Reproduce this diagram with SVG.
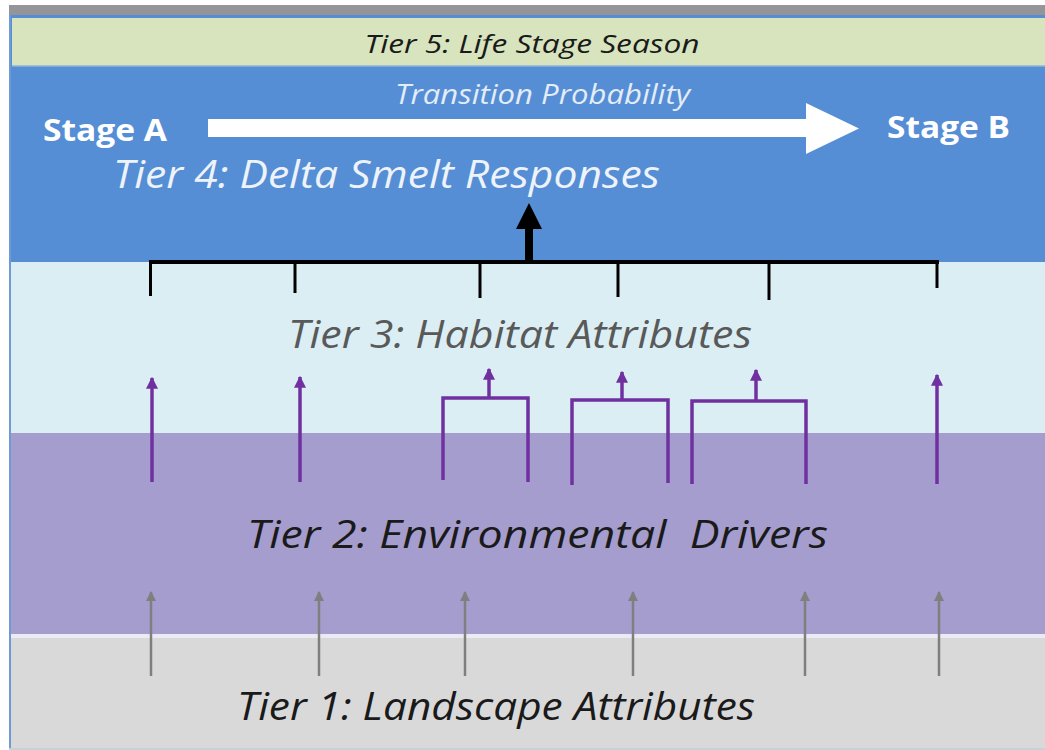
<svg xmlns="http://www.w3.org/2000/svg" width="1045" height="750" viewBox="0 0 1045 750">
<style>
  .t { font-family: "Open Sans", "Liberation Sans", sans-serif; font-style: italic; white-space: pre; }
  .stage { font-family: "Open Sans", "Liberation Sans", sans-serif; font-weight: bold; fill: #ffffff; font-size: 30px; }
  .tick { stroke: #000000; stroke-width: 3; fill: none; }
  .pur { stroke: #7030a0; stroke-width: 3.5; fill: none; stroke-linejoin: miter; }
  .gry { stroke: #7f7f7f; stroke-width: 2.5; fill: none; }
</style>
<defs>
  <marker id="mPur" viewBox="0 0 10 10" refX="9" refY="5" markerUnits="userSpaceOnUse" markerWidth="12" markerHeight="13" orient="auto">
    <path d="M0,0 L10,5 L0,10 Z" fill="#7030a0"/>
  </marker>
  <marker id="mGry" viewBox="0 0 10 10" refX="9" refY="5" markerUnits="userSpaceOnUse" markerWidth="11" markerHeight="10" orient="auto">
    <path d="M0,0 L10,5 L0,10 Z" fill="#7f7f7f"/>
  </marker>
</defs>
<rect x="0" y="0" width="1045" height="750" fill="#ffffff"/>
<g id="tier-bands">
  <rect x="9" y="5" width="1036" height="10" fill="#939598"/>
  <rect x="9" y="15" width="1036" height="247" fill="#558ed5"/>
  <rect x="12" y="18" width="1033" height="48" fill="#d7e4bd"/>
  <line x1="12" y1="66" x2="1045" y2="66" stroke="#8fb4d8" stroke-width="1.5"/>
  <rect x="9" y="262" width="1036" height="171" fill="#dbeef4"/>
  <rect x="9" y="433" width="1036" height="201" fill="#a59dcd"/>
  <rect x="9" y="634" width="1036" height="4" fill="#ecebf5"/>
  <rect x="9" y="638" width="1036" height="110" fill="#d9d9d9"/>
  <rect x="9" y="748" width="1036" height="2" fill="#c8d0d8"/>
  <line x1="10" y1="15" x2="10" y2="748" stroke="#6f9ad6" stroke-width="2"/>
</g>
<g id="tier5">
  <text class="t" x="532" y="53" font-size="25" fill="#1a1a1a" text-anchor="middle" textLength="335" lengthAdjust="spacingAndGlyphs">Tier 5: Life Stage Season</text>
</g>
<g id="stage-a">
  <text class="stage" x="43" y="141" textLength="124" lengthAdjust="spacingAndGlyphs">Stage A</text>
</g>
<g id="stage-b">
  <text class="stage" x="887" y="138" textLength="123" lengthAdjust="spacingAndGlyphs">Stage B</text>
</g>
<g id="tier4">
  <text class="t" x="113" y="188" font-size="39" fill="#eef3fa" textLength="547" lengthAdjust="spacingAndGlyphs">Tier 4: Delta Smelt Responses</text>
</g>
<g id="tier3">
  <text class="t" x="288" y="348" font-size="39" fill="#595959" textLength="464" lengthAdjust="spacingAndGlyphs">Tier 3: Habitat Attributes</text>
</g>
<g id="tier2">
  <text class="t" x="247" y="548" font-size="39" fill="#1a1a1a" textLength="581" lengthAdjust="spacingAndGlyphs">Tier 2: Environmental  Drivers</text>
</g>
<g id="tier1">
  <text class="t" x="237" y="720" font-size="39" fill="#1a1a1a" textLength="518" lengthAdjust="spacingAndGlyphs">Tier 1: Landscape Attributes</text>
</g>
<g id="connectors">
  <!-- transition arrow -->
  <path d="M208,119 L806,119 L806,103 L859,128.5 L806,154 L806,137 L208,137 Z" fill="#ffffff"/>
  <text class="t" x="395" y="104" font-size="27" fill="#e3ecf7" textLength="295" lengthAdjust="spacingAndGlyphs">Transition Probability</text>
  <!-- black bracket to Tier 4 -->
  <line x1="149" y1="262" x2="939" y2="262" stroke="#000" stroke-width="4"/>
  <line class="tick" x1="150.5" y1="262" x2="150.5" y2="296"/>
  <line class="tick" x1="295" y1="262" x2="295" y2="293"/>
  <line class="tick" x1="480" y1="262" x2="480" y2="298"/>
  <line class="tick" x1="618" y1="262" x2="618" y2="297"/>
  <line class="tick" x1="769" y1="262" x2="769" y2="300"/>
  <line class="tick" x1="937" y1="262" x2="937" y2="288"/>
  <rect x="525" y="228" width="8" height="36" fill="#000"/>
  <path d="M516,229 L529,203 L542,229 Z" fill="#000"/>
  <!-- purple arrows Tier 2 to Tier 3 -->
  <line class="pur" x1="152" y1="482" x2="152" y2="378" marker-end="url(#mPur)"/>
  <line class="pur" x1="300" y1="482" x2="300" y2="377" marker-end="url(#mPur)"/>
  <path class="pur" d="M443,480 L443,398 L528,398 L528,482"/>
  <line class="pur" x1="489" y1="398" x2="489" y2="369" marker-end="url(#mPur)"/>
  <path class="pur" d="M572,485 L572,400 L668,400 L668,483"/>
  <line class="pur" x1="622" y1="400" x2="622" y2="372" marker-end="url(#mPur)"/>
  <path class="pur" d="M692,484 L692,401 L806,401 L806,484"/>
  <line class="pur" x1="756" y1="401" x2="756" y2="370" marker-end="url(#mPur)"/>
  <line class="pur" x1="937" y1="484" x2="937" y2="375" marker-end="url(#mPur)"/>
  <!-- gray arrows Tier 1 to Tier 2 -->
  <line class="gry" x1="151" y1="676" x2="151" y2="592" marker-end="url(#mGry)"/>
  <line class="gry" x1="319" y1="676" x2="319" y2="592" marker-end="url(#mGry)"/>
  <line class="gry" x1="465" y1="676" x2="465" y2="592" marker-end="url(#mGry)"/>
  <line class="gry" x1="633" y1="676" x2="633" y2="592" marker-end="url(#mGry)"/>
  <line class="gry" x1="805" y1="676" x2="805" y2="592" marker-end="url(#mGry)"/>
  <line class="gry" x1="939" y1="676" x2="939" y2="592" marker-end="url(#mGry)"/>
</g>
</svg>
